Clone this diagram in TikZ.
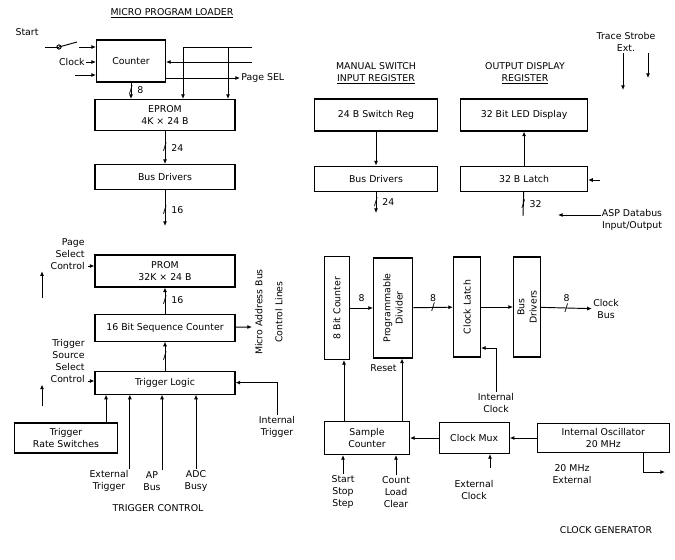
\documentclass[tikz,border=0pt]{standalone}
\usepackage{fontspec}
\setmainfont{DejaVu Sans}
\usetikzlibrary{arrows.meta,positioning,calc}

\begin{document}
\begin{tikzpicture}[
    x=0.03cm, y=-0.03cm,
    font=\fontsize{8}{10.5}\selectfont,
    block/.style={rectangle, draw=black, line width=0.9pt, align=center, inner sep=1pt, minimum width=4.2cm, minimum height=0.75cm},
    vblock/.style={rectangle, draw=black, line width=0.9pt, minimum width=0.8cm, minimum height=3.0cm},
    heading/.style={align=center, inner sep=1pt},
    sig/.style={align=center, inner sep=1pt},
    arrow/.style={-{Latex[length=4pt,width=3.5pt]}, line width=0.8pt},
    line/.style={line width=0.8pt},
    slash/.style={inner sep=0pt, font=\fontsize{9}{9}\selectfont}
]
\useasboundingbox (0,0) rectangle (675,559);

% micro program loader
\node [heading] (loaderhd) at (172,13) {\underline{MICRO PROGRAM LOADER}};
\node [block, minimum width=2.07cm, minimum height=1.26cm] (counter) at (131,61) {Counter};
\node [block, minimum height=0.93cm] (eprom) at (165,115) {EPROM\\4K × 24 B};
\node [block, below=0.99cm of eprom] (busa) {Bus Drivers};

\node [sig] (start) at (27,32) {Start};
\coordinate (startin) at (45,47);
\coordinate (swa) at (59,47);
\coordinate (swb) at (77,42);
\coordinate (swc) at (79,47);
\draw [line] (startin) -- (swa);
\draw [line] (swa) circle (1.8pt);
\draw [line] (swa) -- (swb);
\draw [arrow] (swc) -- (swc -| counter.west);
\node [sig, anchor=east] (clk) at (86,62) {Clock};
\draw [arrow] (clk) -- (clk -| counter.west);
\coordinate (ldin) at (75,75);
\draw [arrow] (ldin) -- (ldin -| counter.west);

\coordinate (ctlin) at (252,47);
\coordinate (ctla) at (183,47);
\coordinate (ctlb) at (228,47);
\draw [line] (ctlin) -- (ctla);
\draw [arrow] (ctla) -- (ctla |- eprom.north);
\draw [arrow] (ctlb) -- (ctlb |- eprom.north);
\coordinate (clrin) at (252,62);
\draw [arrow] (clrin) -- (clrin -| counter.east);
\node [sig, anchor=west] (pgsel) at (240,78) {Page SEL};
\draw [arrow] (counter.east |- pgsel) -- (pgsel.west);

\draw [arrow] (counter.south) -- (counter.south |- eprom.north) node [slash, pos=0.45] {/} node [sig, pos=0.45, right=4pt] {8};
\draw [arrow] (eprom) -- (busa) node [slash, midway] {/} node [sig, midway, right=4pt] {24};
\coordinate (busaout) at (165,226);
\draw [arrow] (busa) -- (busaout) node [slash, pos=0.55] {/} node [sig, pos=0.55, right=4pt] {16};

% sequencer
\node [block, minimum height=0.96cm] (prom) at (165,271) {PROM\\32K × 24 B};
\node [block, minimum height=0.81cm, below=0.78cm of prom] (seq) {16 Bit Sequence Counter};
\node [block, minimum height=0.69cm, below=0.87cm of seq] (trig) {Trigger Logic};
\node [block, minimum width=3.09cm, minimum height=0.9cm] (rate) at (66,438) {Trigger\\Rate Switches};

\node [sig, align=right, anchor=east] (pgctl) at (86,254) {Page\\Select\\Control};
\coordinate (pgin) at (88,266);
\draw [arrow] (pgin) -- (pgin -| prom.west);
\coordinate (pgup) at (42,298);
\draw [arrow] (pgup) -- (pgup |- pgctl.south);

\draw [arrow] (seq) -- (prom) node [slash, midway] {/} node [sig, midway, right=4pt] {16};
\coordinate (seqout) at (252,327);
\draw [arrow] (seq) -- (seqout);
\draw [arrow] (trig) -- (seq) node [slash, midway] {/};

\node [sig, align=right, anchor=east] (trgctl) at (86,361) {Trigger\\Source\\Select\\Control};
\coordinate (trgin) at (88,381);
\draw [arrow] (trgin) -- (trgin -| trig.west);
\coordinate (trgup) at (42,406);
\draw [arrow] (trgup) -- (trgup |- trgctl.south);

\coordinate (ratetop) at ($(rate.north east)+(-12,0)$);
\draw [arrow] (ratetop) -- (ratetop |- trig.south);

\node [sig] (itrig) at (277,427) {Internal\\Trigger};
\draw [arrow] (itrig.north) |- (trig.east);

\node [sig] (exttrg) at (109,481) {External\\Trigger};
\node [sig] (apbus) at (152,481) {AP\\Bus};
\node [sig] (adcbusy) at (196,481) {ADC\\Busy};
\draw [arrow] (exttrg.north east) -- (exttrg.north east |- trig.south);
\draw [arrow] (apbus.north east) -- (apbus.north east |- trig.south);
\draw [arrow] (adcbusy.north) -- (adcbusy.north |- trig.south);

\node [sig, rotate=90] (addrlbl) at (259,312) {Micro Address Bus};
\node [sig, rotate=90] (ctllbl) at (279,312) {Control Lines};

\node [heading] (leftcap) at (158,508) {TRIGGER CONTROL};

% switch and display registers
\node [heading] (swhd) at (376,73) {MANUAL SWITCH\\\underline{INPUT REGISTER}};
\node [heading] (disphd) at (525,73) {OUTPUT DISPLAY\\\underline{REGISTER}};
\node [block, minimum width=3.69cm, minimum height=0.96cm] (swreg) at (376,115) {24 B Switch Reg};
\node [block, minimum width=3.81cm, minimum height=0.96cm, right=0.66cm of swreg] (disp) {32 Bit LED Display};
\node [block, minimum width=3.69cm, below=1.02cm of swreg] (busb) {Bus Drivers};
\node [block, minimum width=3.81cm, below=1.02cm of disp] (latch) {32 B Latch};

\draw [arrow] (swreg) -- (busb);
\coordinate (busbout) at (376,213);
\draw [arrow] (busb) -- (busbout) node [slash, midway] {/} node [sig, midway, right=4pt] {24};
\draw [arrow] (latch) -- (disp);
\coordinate (latchbus) at (523,216);
\draw [line] (latch) -- (latchbus) node [slash, midway] {/} node [sig, midway, right=4pt] {32};

\node [sig] (asp) at (632,220) {ASP Databus\\Input/Output};
\coordinate (aspin) at (600,180);
\draw [arrow] (aspin) -- (latch.east |- aspin);
\coordinate (aspout) at (558,215);
\draw [arrow] (asp.west |- aspout) -- (aspout);

\node [sig] (trace) at (626,42) {Trace Strobe\\Ext.};
\coordinate (trA) at (623,90);
\coordinate (trB) at (648,78);
\draw [arrow] (trace.south -| trA) -- (trA);
\draw [arrow] (trace.south -| trB) -- (trB);

% clock chain
\node [vblock, minimum width=0.75cm, minimum height=3.09cm] (cnt) at (337,308) {};
\node [sig, rotate=90] at (cnt) {8 Bit Counter};
\node [vblock, minimum width=1.17cm, right=0.69cm of cnt] (div) {};
\node [sig, rotate=90] at (div) {Programmable\\Divider};
\node [vblock, minimum width=0.81cm] (lat) at (467,307) {};
\node [sig, rotate=90] at (lat) {Clock Latch};
\node [vblock, minimum width=0.81cm, right=0.96cm of lat] (drv) {};
\node [sig, rotate=90] at (drv) {Bus\\Drivers};
\node [sig] (clkbus) at (606,309) {Clock\\Bus};

\draw [arrow] (cnt) -- (div) node [sig, midway, above=4pt] {8};
\draw [arrow] (div) -- (lat) node [slash, midway] {/} node [sig, midway, above=4pt] {8};
\draw [arrow] (lat) -- (drv);
\draw [arrow] (drv) -- (clkbus) node [slash, midway] {/} node [sig, midway, above=4pt] {8};

\node [sig] (iclk) at (496,403) {Internal\\Clock};
\draw [arrow] (iclk.north) |- ($(lat.east)+(0,41)$);

% clock generator
\node [block, minimum width=2.55cm, minimum height=0.99cm] (sync) at (367,438) {Sample\\Counter};
\node [block, minimum width=2.1cm, minimum height=0.93cm, right=0.86cm of sync] (mux) {Clock Mux};
\node [block, minimum width=3.96cm, minimum height=0.87cm, right=0.81cm of mux] (osc) {Internal Oscillator\\20 MHz};

\draw [arrow] (osc) -- (mux);
\draw [arrow] (mux) -- (sync);
\coordinate (syncA) at ($(sync.north west)+(20,0)$);
\draw [arrow] (syncA) -- (syncA |- cnt.south);
\coordinate (syncB) at ($(sync.north east)+(-8,0)$);
\draw [arrow] (syncB) -- (syncB |- div.south);
\node [sig, anchor=east] (reset) at (398,368) {Reset};

\node [sig] (startstop) at (343,492) {Start\\Stop\\Step};
\node [sig] (countld) at (396,492) {Count\\Load\\Clear};
\draw [arrow] (startstop.north) -- (startstop.north |- sync.south);
\draw [arrow] (countld.north) -- (countld.north |- sync.south);

\coordinate (clkselin) at (490,468);
\draw [arrow] (clkselin) -- (clkselin |- mux.south);
\node [sig] (extclk) at (474,490) {External\\Clock};

\node [sig] (oscext) at (572,474) {20 MHz\\External};
\coordinate (oscout) at (665,472);
\draw [arrow] ($(osc.south)+(40,0)$) |- (oscout);

\node [heading] (rightcap) at (606,530) {CLOCK GENERATOR};
\end{tikzpicture}
\end{document}
